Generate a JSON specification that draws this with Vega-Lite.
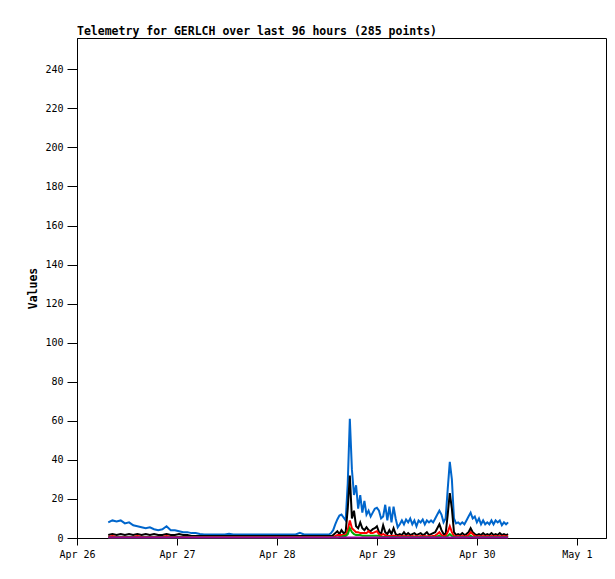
{
  "$schema": "https://vega.github.io/schema/vega-lite/v6.json",
  "width": 529,
  "height": 500,
  "autosize": "none",
  "padding": {"left": 77, "top": 38, "right": 9, "bottom": 41},
  "background": "white",
  "title": {
    "text": "Telemetry for GERLCH over last 96 hours (285 points)",
    "anchor": "start",
    "frame": "group",
    "font": "DejaVu Sans Mono",
    "fontSize": 11.5,
    "fontWeight": "bold",
    "color": "#000000",
    "offset": 1
  },
  "config": {
    "view": {"stroke": "#000000", "strokeWidth": 1},
    "axis": {
      "domainColor": "#000000",
      "tickColor": "#000000",
      "labelColor": "#000000",
      "titleColor": "#000000",
      "labelFont": "DejaVu Sans Mono",
      "labelFontSize": 10,
      "titleFont": "DejaVu Sans Mono",
      "titleFontSize": 11.5,
      "titleFontWeight": "bold",
      "grid": false,
      "labelFlush": false,
      "labelOverlap": false
    }
  },
  "data": {
    "values": [
      {"t": "2024-04-26T07:30", "blue": 8, "black": 1.5, "red": 0.5, "green": 0.3, "purple": 0.2},
      {"t": "2024-04-26T08:30", "blue": 9, "black": 2, "red": 1, "green": 0.3, "purple": 0.2},
      {"t": "2024-04-26T09:30", "blue": 8.5, "black": 1.5, "red": 0.5, "green": 0.3, "purple": 0.2},
      {"t": "2024-04-26T10:30", "blue": 9, "black": 2, "red": 0.5, "green": 0.3, "purple": 0.2},
      {"t": "2024-04-26T11:30", "blue": 7.5, "black": 1.5, "red": 0.5, "green": 0.3, "purple": 0.2},
      {"t": "2024-04-26T12:30", "blue": 8, "black": 2, "red": 0.5, "green": 0.3, "purple": 0.2},
      {"t": "2024-04-26T13:30", "blue": 6.5, "black": 1.5, "red": 0.5, "green": 0.3, "purple": 0.2},
      {"t": "2024-04-26T14:30", "blue": 6, "black": 2, "red": 1, "green": 0.3, "purple": 0.2},
      {"t": "2024-04-26T15:30", "blue": 5.5, "black": 1.5, "red": 0.5, "green": 0.3, "purple": 0.2},
      {"t": "2024-04-26T16:30", "blue": 5, "black": 2, "red": 0.5, "green": 0.3, "purple": 0.2},
      {"t": "2024-04-26T17:30", "blue": 5.5, "black": 1.5, "red": 0.5, "green": 0.3, "purple": 0.2},
      {"t": "2024-04-26T18:30", "blue": 4.5, "black": 2, "red": 0.5, "green": 0.3, "purple": 0.2},
      {"t": "2024-04-26T19:30", "blue": 4, "black": 1.5, "red": 0.5, "green": 0.3, "purple": 0.2},
      {"t": "2024-04-26T20:30", "blue": 4.5, "black": 1.5, "red": 0.5, "green": 0.3, "purple": 0.2},
      {"t": "2024-04-26T21:30", "blue": 6, "black": 2, "red": 1, "green": 0.3, "purple": 0.2},
      {"t": "2024-04-26T22:30", "blue": 4, "black": 1.5, "red": 0.5, "green": 0.3, "purple": 0.2},
      {"t": "2024-04-26T23:30", "blue": 4, "black": 1.5, "red": 0.5, "green": 0.3, "purple": 0.2},
      {"t": "2024-04-27T00:30", "blue": 3.5, "black": 2, "red": 0.5, "green": 0.3, "purple": 0.2},
      {"t": "2024-04-27T01:30", "blue": 3, "black": 1.5, "red": 0.5, "green": 0.3, "purple": 0.2},
      {"t": "2024-04-27T02:30", "blue": 3, "black": 1.5, "red": 0.5, "green": 0.3, "purple": 0.2},
      {"t": "2024-04-27T03:30", "blue": 2.5, "black": 1, "red": 0.5, "green": 0.3, "purple": 0.2},
      {"t": "2024-04-27T04:30", "blue": 2.5, "black": 1, "red": 0.5, "green": 0.3, "purple": 0.2},
      {"t": "2024-04-27T05:30", "blue": 2, "black": 1, "red": 0.5, "green": 0.3, "purple": 0.2},
      {"t": "2024-04-27T06:30", "blue": 1.8, "black": 1, "red": 0.5, "green": 0.3, "purple": 0.2},
      {"t": "2024-04-27T07:30", "blue": 1.8, "black": 1, "red": 0.5, "green": 0.3, "purple": 0.2},
      {"t": "2024-04-27T08:30", "blue": 1.8, "black": 1, "red": 0.5, "green": 0.3, "purple": 0.2},
      {"t": "2024-04-27T09:30", "blue": 1.8, "black": 1, "red": 0.5, "green": 0.3, "purple": 0.2},
      {"t": "2024-04-27T10:30", "blue": 1.8, "black": 1, "red": 0.5, "green": 0.3, "purple": 0.2},
      {"t": "2024-04-27T11:30", "blue": 1.8, "black": 1, "red": 0.5, "green": 0.3, "purple": 0.2},
      {"t": "2024-04-27T12:30", "blue": 2.2, "black": 1, "red": 0.5, "green": 0.3, "purple": 0.2},
      {"t": "2024-04-27T13:30", "blue": 1.8, "black": 1, "red": 0.5, "green": 0.3, "purple": 0.2},
      {"t": "2024-04-27T14:30", "blue": 1.8, "black": 1, "red": 0.5, "green": 0.3, "purple": 0.2},
      {"t": "2024-04-27T15:30", "blue": 1.8, "black": 1, "red": 0.5, "green": 0.3, "purple": 0.2},
      {"t": "2024-04-27T16:30", "blue": 1.8, "black": 1, "red": 0.5, "green": 0.3, "purple": 0.2},
      {"t": "2024-04-27T17:30", "blue": 1.8, "black": 1, "red": 0.5, "green": 0.3, "purple": 0.2},
      {"t": "2024-04-27T18:30", "blue": 1.8, "black": 1, "red": 0.5, "green": 0.3, "purple": 0.2},
      {"t": "2024-04-27T19:30", "blue": 1.8, "black": 1, "red": 0.5, "green": 0.3, "purple": 0.2},
      {"t": "2024-04-27T20:30", "blue": 1.8, "black": 1, "red": 0.5, "green": 0.3, "purple": 0.2},
      {"t": "2024-04-27T21:30", "blue": 1.8, "black": 1, "red": 0.5, "green": 0.3, "purple": 0.2},
      {"t": "2024-04-27T22:30", "blue": 1.8, "black": 1, "red": 0.5, "green": 0.3, "purple": 0.2},
      {"t": "2024-04-27T23:30", "blue": 1.8, "black": 1, "red": 0.5, "green": 0.3, "purple": 0.2},
      {"t": "2024-04-28T00:30", "blue": 1.8, "black": 1, "red": 0.5, "green": 0.3, "purple": 0.2},
      {"t": "2024-04-28T01:30", "blue": 1.8, "black": 1, "red": 0.5, "green": 0.3, "purple": 0.2},
      {"t": "2024-04-28T02:30", "blue": 1.8, "black": 1, "red": 0.5, "green": 0.3, "purple": 0.2},
      {"t": "2024-04-28T03:30", "blue": 1.8, "black": 1, "red": 0.5, "green": 0.3, "purple": 0.2},
      {"t": "2024-04-28T04:30", "blue": 1.8, "black": 1, "red": 0.5, "green": 0.3, "purple": 0.2},
      {"t": "2024-04-28T05:30", "blue": 2.7, "black": 1, "red": 0.5, "green": 0.3, "purple": 0.2},
      {"t": "2024-04-28T06:30", "blue": 1.8, "black": 1, "red": 0.5, "green": 0.3, "purple": 0.2},
      {"t": "2024-04-28T07:30", "blue": 1.8, "black": 1, "red": 0.5, "green": 0.3, "purple": 0.2},
      {"t": "2024-04-28T08:30", "blue": 1.8, "black": 1, "red": 0.5, "green": 0.3, "purple": 0.2},
      {"t": "2024-04-28T09:30", "blue": 1.8, "black": 1, "red": 0.5, "green": 0.3, "purple": 0.2},
      {"t": "2024-04-28T10:30", "blue": 1.8, "black": 1, "red": 0.5, "green": 0.3, "purple": 0.2},
      {"t": "2024-04-28T11:30", "blue": 1.8, "black": 1, "red": 0.5, "green": 0.3, "purple": 0.2},
      {"t": "2024-04-28T12:30", "blue": 1.8, "black": 1, "red": 0.5, "green": 0.3, "purple": 0.2},
      {"t": "2024-04-28T13:00", "blue": 2.5, "black": 1, "red": 0.5, "green": 0.3, "purple": 0.2},
      {"t": "2024-04-28T13:30", "blue": 4, "black": 1.5, "red": 0.5, "green": 0.3, "purple": 0.2},
      {"t": "2024-04-28T14:00", "blue": 7, "black": 2.5, "red": 1, "green": 0.3, "purple": 0.2},
      {"t": "2024-04-28T14:30", "blue": 9.5, "black": 3.5, "red": 1.5, "green": 0.3, "purple": 0.2},
      {"t": "2024-04-28T15:00", "blue": 11.5, "black": 2, "red": 1.5, "green": 0.5, "purple": 0.2},
      {"t": "2024-04-28T15:30", "blue": 12, "black": 4, "red": 1.5, "green": 0.5, "purple": 0.2},
      {"t": "2024-04-28T16:00", "blue": 10.5, "black": 2.5, "red": 1.5, "green": 1, "purple": 0.2},
      {"t": "2024-04-28T16:30", "blue": 9, "black": 3, "red": 1.5, "green": 1, "purple": 0.2},
      {"t": "2024-04-28T17:00", "blue": 28, "black": 15, "red": 4, "green": 2, "purple": 0.3},
      {"t": "2024-04-28T17:30", "blue": 61, "black": 32, "red": 9, "green": 5, "purple": 0.3},
      {"t": "2024-04-28T18:00", "blue": 35, "black": 10, "red": 5, "green": 3, "purple": 0.3},
      {"t": "2024-04-28T18:30", "blue": 22, "black": 14, "red": 4, "green": 2, "purple": 0.3},
      {"t": "2024-04-28T19:00", "blue": 27, "black": 6, "red": 3, "green": 1.5, "purple": 0.3},
      {"t": "2024-04-28T19:30", "blue": 15, "black": 5, "red": 3, "green": 1.5, "purple": 0.3},
      {"t": "2024-04-28T20:00", "blue": 22, "black": 8, "red": 2.5, "green": 1.5, "purple": 0.3},
      {"t": "2024-04-28T20:30", "blue": 13, "black": 5, "red": 2.5, "green": 1.2, "purple": 0.3},
      {"t": "2024-04-28T21:00", "blue": 19, "black": 4, "red": 2.5, "green": 1.2, "purple": 0.3},
      {"t": "2024-04-28T21:30", "blue": 12, "black": 5.5, "red": 2.5, "green": 1.2, "purple": 0.3},
      {"t": "2024-04-28T22:00", "blue": 14, "black": 4, "red": 3.5, "green": 1.2, "purple": 0.3},
      {"t": "2024-04-28T22:30", "blue": 11, "black": 3.5, "red": 2.5, "green": 1.2, "purple": 0.3},
      {"t": "2024-04-28T23:00", "blue": 13, "black": 4.5, "red": 2.5, "green": 1.2, "purple": 0.3},
      {"t": "2024-04-28T23:30", "blue": 15, "black": 5, "red": 3, "green": 1.2, "purple": 0.3},
      {"t": "2024-04-29T00:00", "blue": 15.5, "black": 6, "red": 3.5, "green": 1.2, "purple": 0.3},
      {"t": "2024-04-29T00:30", "blue": 14, "black": 3, "red": 2, "green": 1.2, "purple": 0.3},
      {"t": "2024-04-29T01:00", "blue": 10, "black": 2, "red": 1.5, "green": 0.5, "purple": 0.3},
      {"t": "2024-04-29T01:30", "blue": 11, "black": 6.5, "red": 2, "green": 0.5, "purple": 0.3},
      {"t": "2024-04-29T02:00", "blue": 17, "black": 3, "red": 1.5, "green": 0.5, "purple": 0.3},
      {"t": "2024-04-29T02:30", "blue": 9, "black": 2, "red": 1, "green": 0.5, "purple": 0.3},
      {"t": "2024-04-29T03:00", "blue": 16, "black": 4, "red": 1, "green": 0.5, "purple": 0.3},
      {"t": "2024-04-29T03:30", "blue": 8, "black": 2, "red": 1, "green": 0.5, "purple": 0.3},
      {"t": "2024-04-29T04:00", "blue": 16, "black": 5, "red": 1.2, "green": 0.5, "purple": 0.3},
      {"t": "2024-04-29T04:30", "blue": 10, "black": 2, "red": 1, "green": 0.5, "purple": 0.3},
      {"t": "2024-04-29T05:00", "blue": 5.5, "black": 1.5, "red": 0.8, "green": 0.4, "purple": 0.3},
      {"t": "2024-04-29T05:30", "blue": 7, "black": 2, "red": 1, "green": 0.4, "purple": 0.3},
      {"t": "2024-04-29T06:00", "blue": 9, "black": 1.5, "red": 0.8, "green": 0.4, "purple": 0.3},
      {"t": "2024-04-29T06:30", "blue": 7, "black": 3, "red": 1, "green": 0.4, "purple": 0.3},
      {"t": "2024-04-29T07:00", "blue": 9.5, "black": 1.5, "red": 0.8, "green": 0.4, "purple": 0.3},
      {"t": "2024-04-29T07:30", "blue": 8, "black": 2.5, "red": 1, "green": 0.4, "purple": 0.3},
      {"t": "2024-04-29T08:00", "blue": 10, "black": 1.5, "red": 0.8, "green": 0.4, "purple": 0.3},
      {"t": "2024-04-29T08:30", "blue": 7, "black": 2, "red": 1, "green": 0.4, "purple": 0.3},
      {"t": "2024-04-29T09:00", "blue": 9, "black": 2.5, "red": 0.8, "green": 0.4, "purple": 0.3},
      {"t": "2024-04-29T09:30", "blue": 6, "black": 1.5, "red": 1, "green": 0.4, "purple": 0.3},
      {"t": "2024-04-29T10:00", "blue": 9, "black": 2, "red": 0.8, "green": 0.4, "purple": 0.3},
      {"t": "2024-04-29T10:30", "blue": 8, "black": 2.5, "red": 1, "green": 0.4, "purple": 0.3},
      {"t": "2024-04-29T11:00", "blue": 9.5, "black": 1.5, "red": 0.8, "green": 0.4, "purple": 0.3},
      {"t": "2024-04-29T11:30", "blue": 7, "black": 2, "red": 1, "green": 0.4, "purple": 0.3},
      {"t": "2024-04-29T12:00", "blue": 9, "black": 3, "red": 0.8, "green": 0.4, "purple": 0.3},
      {"t": "2024-04-29T12:30", "blue": 8, "black": 1.5, "red": 1, "green": 0.4, "purple": 0.3},
      {"t": "2024-04-29T13:00", "blue": 9, "black": 2, "red": 0.8, "green": 0.4, "purple": 0.3},
      {"t": "2024-04-29T13:30", "blue": 8, "black": 2.5, "red": 1, "green": 0.4, "purple": 0.3},
      {"t": "2024-04-29T14:00", "blue": 10, "black": 3, "red": 1.2, "green": 0.4, "purple": 0.3},
      {"t": "2024-04-29T14:30", "blue": 12, "black": 5, "red": 2, "green": 0.8, "purple": 0.3},
      {"t": "2024-04-29T15:00", "blue": 14, "black": 7, "red": 3, "green": 1.2, "purple": 0.3},
      {"t": "2024-04-29T15:30", "blue": 12, "black": 4, "red": 1.5, "green": 0.5, "purple": 0.3},
      {"t": "2024-04-29T16:00", "blue": 8, "black": 2, "red": 1, "green": 0.4, "purple": 0.3},
      {"t": "2024-04-29T16:30", "blue": 10, "black": 2, "red": 1, "green": 0.4, "purple": 0.3},
      {"t": "2024-04-29T17:00", "blue": 25, "black": 12, "red": 3, "green": 1, "purple": 0.3},
      {"t": "2024-04-29T17:30", "blue": 39, "black": 23, "red": 6, "green": 2, "purple": 0.3},
      {"t": "2024-04-29T18:00", "blue": 30, "black": 15, "red": 3, "green": 1, "purple": 0.3},
      {"t": "2024-04-29T18:30", "blue": 10, "black": 3, "red": 1, "green": 0.4, "purple": 0.3},
      {"t": "2024-04-29T19:00", "blue": 7.5, "black": 1.5, "red": 0.8, "green": 0.4, "purple": 0.3},
      {"t": "2024-04-29T19:30", "blue": 8, "black": 2, "red": 1, "green": 0.4, "purple": 0.3},
      {"t": "2024-04-29T20:00", "blue": 7, "black": 1.5, "red": 0.8, "green": 0.4, "purple": 0.3},
      {"t": "2024-04-29T20:30", "blue": 8, "black": 2.5, "red": 1, "green": 0.4, "purple": 0.3},
      {"t": "2024-04-29T21:00", "blue": 7, "black": 1.5, "red": 0.8, "green": 0.4, "purple": 0.3},
      {"t": "2024-04-29T21:30", "blue": 9, "black": 2, "red": 1, "green": 0.4, "purple": 0.3},
      {"t": "2024-04-29T22:00", "blue": 11, "black": 3, "red": 1.5, "green": 0.5, "purple": 0.3},
      {"t": "2024-04-29T22:30", "blue": 13, "black": 5, "red": 3, "green": 1.2, "purple": 0.3},
      {"t": "2024-04-29T23:00", "blue": 10, "black": 3, "red": 2, "green": 0.5, "purple": 0.3},
      {"t": "2024-04-29T23:30", "blue": 11, "black": 2, "red": 1, "green": 0.4, "purple": 0.3},
      {"t": "2024-04-30T00:00", "blue": 8, "black": 1.5, "red": 0.8, "green": 0.4, "purple": 0.3},
      {"t": "2024-04-30T00:30", "blue": 10, "black": 2, "red": 1, "green": 0.4, "purple": 0.3},
      {"t": "2024-04-30T01:00", "blue": 7, "black": 1.5, "red": 0.8, "green": 0.4, "purple": 0.3},
      {"t": "2024-04-30T01:30", "blue": 9, "black": 2.5, "red": 1, "green": 0.4, "purple": 0.3},
      {"t": "2024-04-30T02:00", "blue": 7, "black": 1.5, "red": 0.8, "green": 0.4, "purple": 0.3},
      {"t": "2024-04-30T02:30", "blue": 8, "black": 2, "red": 1, "green": 0.4, "purple": 0.3},
      {"t": "2024-04-30T03:00", "blue": 7, "black": 1.5, "red": 0.8, "green": 0.4, "purple": 0.3},
      {"t": "2024-04-30T03:30", "blue": 9, "black": 2.5, "red": 1, "green": 0.4, "purple": 0.3},
      {"t": "2024-04-30T04:00", "blue": 7, "black": 1.5, "red": 0.8, "green": 0.4, "purple": 0.3},
      {"t": "2024-04-30T04:30", "blue": 9, "black": 2, "red": 1, "green": 0.4, "purple": 0.3},
      {"t": "2024-04-30T05:00", "blue": 8, "black": 1.5, "red": 0.8, "green": 0.4, "purple": 0.3},
      {"t": "2024-04-30T05:30", "blue": 9, "black": 2.5, "red": 1, "green": 0.4, "purple": 0.3},
      {"t": "2024-04-30T06:00", "blue": 6.5, "black": 1.5, "red": 0.8, "green": 0.4, "purple": 0.3},
      {"t": "2024-04-30T06:30", "blue": 8, "black": 2, "red": 1, "green": 0.4, "purple": 0.3},
      {"t": "2024-04-30T07:00", "blue": 7, "black": 1.5, "red": 0.8, "green": 0.4, "purple": 0.3},
      {"t": "2024-04-30T07:30", "blue": 8, "black": 2, "red": 1, "green": 0.4, "purple": 0.3}
    ]
  },
  "encoding": {
    "x": {
      "field": "t",
      "type": "temporal",
      "title": null,
      "scale": {
        "domain": [
          {"year": 2024, "month": "apr", "date": 26},
          {"year": 2024, "month": "may", "date": 1, "hours": 7}
        ]
      },
      "axis": {
        "format": "%b %-d",
        "tickSize": 7,
        "labelPadding": 4,
        "values": [
          {"year": 2024, "month": "apr", "date": 26},
          {"year": 2024, "month": "apr", "date": 27},
          {"year": 2024, "month": "apr", "date": 28},
          {"year": 2024, "month": "apr", "date": 29},
          {"year": 2024, "month": "apr", "date": 30},
          {"year": 2024, "month": "may", "date": 1}
        ]
      }
    }
  },
  "layer": [
    {
      "mark": {"type": "line", "color": "#0066cc", "strokeWidth": 2},
      "encoding": {
        "y": {
          "field": "blue",
          "type": "quantitative",
          "title": "Values",
          "scale": {"domain": [0, 256], "nice": false},
          "axis": {
            "values": [0, 20, 40, 60, 80, 100, 120, 140, 160, 180, 200, 220, 240],
            "tickSize": 10,
            "labelPadding": 4,
            "titlePadding": 6
          }
        }
      }
    },
    {
      "mark": {"type": "line", "color": "#000000", "strokeWidth": 2},
      "encoding": {"y": {"field": "black", "type": "quantitative"}}
    },
    {
      "mark": {"type": "line", "color": "#ff0000", "strokeWidth": 2},
      "encoding": {"y": {"field": "red", "type": "quantitative"}}
    },
    {
      "mark": {"type": "line", "color": "#00aa00", "strokeWidth": 2},
      "encoding": {"y": {"field": "green", "type": "quantitative"}}
    },
    {
      "mark": {"type": "line", "color": "#990099", "strokeWidth": 2},
      "encoding": {"y": {"field": "purple", "type": "quantitative"}}
    }
  ]
}
